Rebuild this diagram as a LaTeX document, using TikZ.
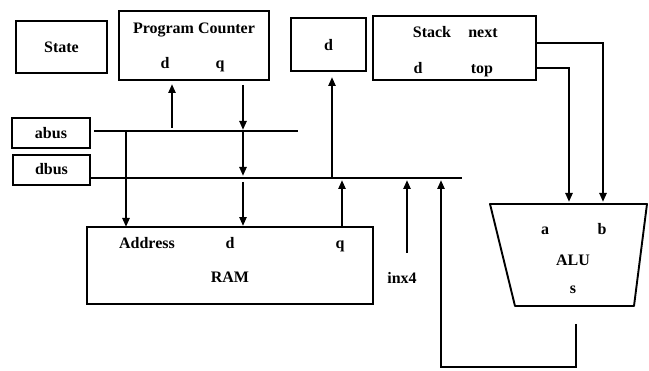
\documentclass[tikz,border=0pt]{standalone}
\usepackage{fontspec}
\setmainfont{Liberation Serif}
\usetikzlibrary{arrows.meta}

\begin{document}
\begin{tikzpicture}[x=1pt, y=-1pt,
  lbl/.style={font=\bfseries\fontsize{16}{18}\selectfont, inner sep=1pt,
    text height=1.6ex, text depth=0.3ex, yshift=-2.5pt},
  box/.style={draw, line width=1.9pt, inner sep=0pt},
  bus/.style={draw, line width=2.4pt},
  arr/.style={draw, line width=2.2pt, -{Triangle[length=9pt, width=7pt]}}
]
\useasboundingbox (0,0) rectangle (649,371);

% registers along the top
\node[box, minimum width=91pt, minimum height=52pt] (state) at (61.5,47) {};
\node[lbl] (statelbl) at (61.5,47) {State};
\node[box, minimum width=150pt, minimum height=69pt] (pc) at (194,45.5) {};
\node[lbl] (pctitle) at (194,28) {Program Counter};
\node[lbl] (pcd) at (165,63) {d};
\node[lbl] (pcq) at (220,63) {q};
\node[box, minimum width=75pt, minimum height=53pt] (dreg) at (328.5,44.5) {};
\node[lbl] (dregd) at (328.5,45) {d};
\node[box, minimum width=163pt, minimum height=64pt] (stack) at (454.5,48) {};
\node[lbl] (sttitle) at (432,32) {Stack};
\node[lbl] (stnext) at (483,32) {next};
\node[lbl] (std) at (418,68) {d};
\node[lbl] (sttop) at (482,68) {top};

% buses
\node[box, minimum width=78pt, minimum height=30pt] (abus) at (51,133) {};
\node[lbl] (abuslbl) at (51,133) {abus};
\node[box, minimum width=77pt, minimum height=30pt] (dbus) at (51.5,170) {};
\node[lbl] (dbuslbl) at (51.5,169) {dbus};
\coordinate (abL) at (94,131);
\coordinate (abR) at (298,131);
\coordinate (dbL) at (90,178);
\coordinate (dbR) at (462,178);
\draw[bus] (abL) -- (abR);
\draw[bus] (dbL) -- (dbR);

% RAM
\node[box, minimum width=286pt, minimum height=77pt] (ram) at (230,265.5) {};
\node[lbl] (ramaddr) at (147,243) {Address};
\node[lbl] (ramd) at (230,243) {d};
\node[lbl] (ramq) at (340,243) {q};
\node[lbl] (ramlbl) at (230,277) {RAM};
\node[lbl] (inx) at (402,278) {inx4};

% ALU
\coordinate (aluTL) at (490,204);
\coordinate (aluTR) at (647,204);
\coordinate (aluBR) at (634,306);
\coordinate (aluBL) at (515,306);
\draw[line width=1.9pt, line join=round] (aluTL) -- (aluTR) -- (aluBR) -- (aluBL) -- cycle;
\node[lbl] (alua) at (545,229) {a};
\node[lbl] (alub) at (602,229) {b};
\node[lbl] (alulbl) at (573,260) {ALU};
\node[lbl] (alus) at (573,288) {s};

% connector ends
\coordinate (pcin) at (172,80);
\coordinate (pcout) at (243,80);
\coordinate (ramA) at (126,227);
\coordinate (ramQ) at (342,227);
\coordinate (dregin) at (332,71);
\coordinate (inxsrc) at (407,253);
\coordinate (aluout) at (576,324);
\coordinate (ret) at (441,367);
\coordinate (stN) at (536,43);
\coordinate (stT) at (536,68);
\coordinate (aluA) at (569,204);
\coordinate (aluB) at (603,204);

\draw[arr, shorten <=3pt, shorten >=4pt] (pcin |- abL) -- (pcin);
\draw[arr, shorten <=5pt, shorten >=1pt] (pcout) -- (pcout |- abL);
\draw[arr, shorten >=2pt] (pcout |- abL) -- (pcout |- dbL);
\draw[arr, shorten <=4pt] (pcout |- dbL) -- (ram.north -| pcout);
\draw[arr] (ramA |- abL) -- (ramA);
\draw[arr, shorten >=2pt] (ramQ) -- (ramQ |- dbL);
\draw[arr, shorten >=6pt] (dregin |- dbL) -- (dregin);
\draw[arr, shorten >=2pt] (inxsrc) -- (inxsrc |- dbL);
\draw[arr, shorten >=2pt] (aluout) |- (ret) -- (ret |- dbL);
\draw[arr, shorten >=2pt] (stN) -| (aluB);
\draw[arr, shorten >=2pt] (stT) -| (aluA);

\end{tikzpicture}
\end{document}
